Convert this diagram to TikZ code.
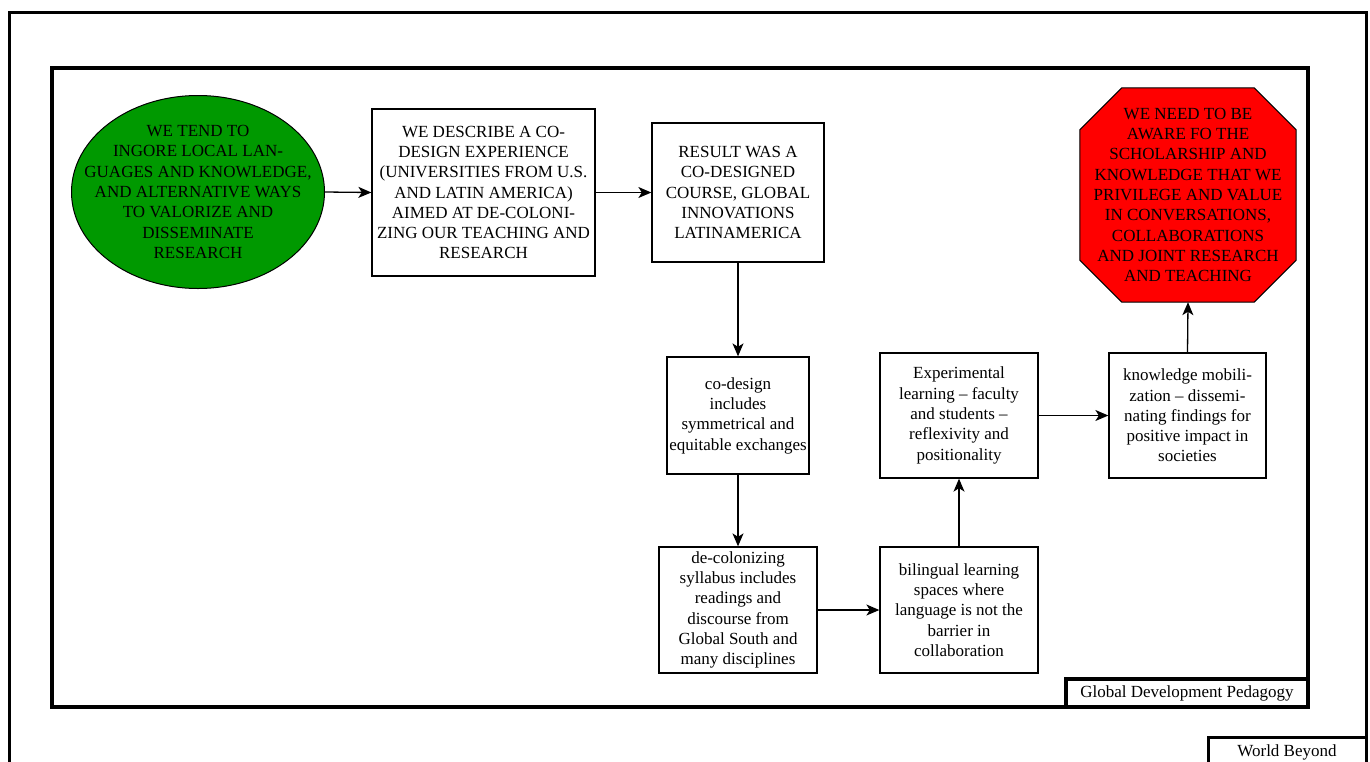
\documentclass[tikz,border=0pt]{standalone}
\usepackage{fontspec}
\setmainfont{Liberation Serif}
\usetikzlibrary{shapes.geometric,arrows.meta,backgrounds}
\definecolor{leafgreen}{RGB}{0,153,0}
\definecolor{stopred}{RGB}{255,0,0}

\begin{document}
\begin{tikzpicture}[x=1pt,y=-1pt,
	every node/.style={font=\fontsize{17}{20.3}\selectfont, align=center, inner sep=0pt},
	stepbox/.style={draw, line width=1.3pt},
	flow/.style={line width=1.3pt, -{Stealth[length=13pt,width=11pt,inset=3.5pt]}},
	frame/.style={line width=4pt}]
	\useasboundingbox (0,0) rectangle (1370,761);

	% Frames
	\draw[line width=3pt] (9,765) -- (9,12) -- (1366,12) -- (1366,765);
	\draw[frame] (52,68) rectangle (1308,707);
	\node[draw, line width=4pt, minimum width=242pt, minimum height=28pt] (gdp) at (1187,693) {Global Development Pedagogy};
	\node[draw, line width=3pt, minimum width=158pt, minimum height=30pt] (wb) at (1287,752) {World Beyond};

	% Top row
	\node[ellipse, draw, line width=1pt, fill=leafgreen, minimum width=253pt, minimum height=193pt,
		label={center:{WE TEND TO\\INGORE LOCAL LAN-\\GUAGES AND KNOWLEDGE,\\AND ALTERNATIVE WAYS\\TO VALORIZE AND\\DISSEMINATE\\RESEARCH}}] (ignore) at (198,192) {};
	\node[stepbox, minimum width=223pt, minimum height=167pt] (describe) at (483.5,192.5)
		{WE DESCRIBE A CO-\\DESIGN EXPERIENCE\\(UNIVERSITIES FROM U.S.\\AND LATIN AMERICA)\\AIMED AT DE-COLONI-\\ZING OUR TEACHING AND\\RESEARCH};
	\node[stepbox, minimum width=172pt, minimum height=139pt] (result) at (738,192.5)
		{RESULT WAS A\\CO-DESIGNED\\COURSE, GLOBAL\\INNOVATIONS\\LATINAMERICA};
	\node[minimum width=216pt, minimum height=214pt] (aware) at (1188,195)
		{WE NEED TO BE\\AWARE FO THE\\SCHOLARSHIP AND\\KNOWLEDGE THAT WE\\PRIVILEGE AND VALUE\\IN CONVERSATIONS,\\COLLABORATIONS\\AND JOINT RESEARCH\\AND TEACHING};
	% octagon behind the text
	\begin{scope}[on background layer]
		\draw[line width=1pt, fill=stopred] ([xshift=42pt]aware.north west) -- ([xshift=-42pt]aware.north east)
			-- ([yshift=-42pt]aware.north east) -- ([yshift=42pt]aware.south east)
			-- ([xshift=-42pt]aware.south east) -- ([xshift=42pt]aware.south west)
			-- ([yshift=42pt]aware.south west) -- ([yshift=-42pt]aware.north west) -- cycle;
	\end{scope}

	% Middle row
	\node[stepbox, minimum width=142pt, minimum height=117pt] (codesign) at (738,415.5)
		{co-design\\includes\\symmetrical and\\equitable exchanges};
	\node[stepbox, minimum width=158pt, minimum height=125pt] (experiential) at (959,415.5)
		{Experimental\\learning -- faculty\\and students --\\reflexivity and\\positionality};
	\node[stepbox, minimum width=157pt, minimum height=125pt] (mobilize) at (1187.5,415.5)
		{knowledge mobili-\\zation -- dissemi-\\nating findings for\\positive impact in\\societies};

	% Bottom row
	\node[stepbox, minimum width=158pt, minimum height=126pt] (syllabus) at (738,610)
		{de-colonizing\\syllabus includes\\readings and\\discourse from\\Global South and\\many disciplines};
	\node[stepbox, minimum width=158pt, minimum height=126pt] (bilingual) at (959,610)
		{bilingual learning\\spaces where\\language is not the\\barrier in\\collaboration};

	% Connectors
	\draw[flow] (ignore.east) -- (describe.west);
	\draw[flow] (describe.east) -- (result.west);
	\draw[flow] (result.south) -- (codesign.north);
	\draw[flow] (codesign.south) -- (syllabus.north);
	\draw[flow] (syllabus.east) -- (bilingual.west);
	\draw[flow] (bilingual.north) -- (experiential.south);
	\draw[flow] (experiential.east) -- (mobilize.west);
	\draw[flow] (mobilize.north) -- (aware.south);

\end{tikzpicture}
\end{document}
